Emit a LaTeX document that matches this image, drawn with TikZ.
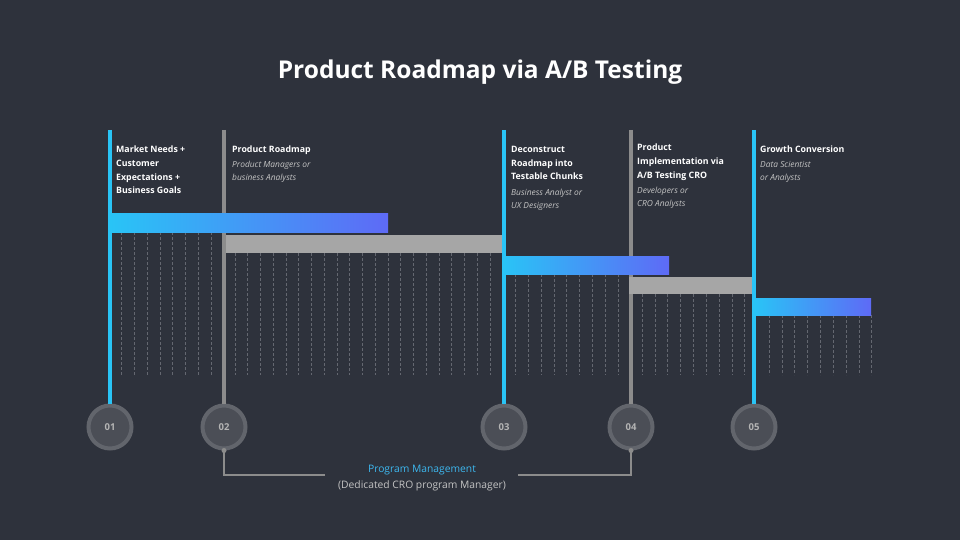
\documentclass[tikz,border=0pt]{standalone}
\usepackage{fontspec}
\setmainfont{Open Sans}
\usetikzlibrary{calc}
\definecolor{bg}{HTML}{2E323C}
\definecolor{cyanl}{HTML}{29C4F6}
\definecolor{violetl}{HTML}{5E6AF6}
\definecolor{grayline}{HTML}{8C8C8C}
\definecolor{graybar}{HTML}{A6A6A6}
\definecolor{ringc}{HTML}{62656C}
\definecolor{circfill}{HTML}{4B4E56}
\definecolor{numc}{HTML}{B4B4B4}
\definecolor{rolec}{HTML}{C4C4C4}
\definecolor{dashc}{HTML}{646770}
\definecolor{pmblue}{HTML}{3DB8F0}
\tikzset{
  vblue/.style={draw=cyanl, line width=4pt},
  vgray/.style={draw=grayline, line width=4pt},
  stepcirc/.style={circle, minimum size=43pt, inner sep=0pt, fill=circfill, draw=ringc, line width=4pt,
     text=numc, font=\bfseries\fontsize{9.5}{11}\selectfont},
  gradbar/.style={left color=cyanl, right color=violetl},
  dashl/.style={draw=dashc, line width=0.7pt, dash pattern=on 3pt off 2pt},
  headtxt/.style={anchor=north west, inner sep=0pt, align=left, text=white,
     font=\bfseries\fontsize{8.8}{13.6}\selectfont},
  roletxt/.style={anchor=north west, inner sep=0pt, align=left, text=rolec,
     font=\itshape\fontsize{8.4}{13}\selectfont},
  conn/.style={draw=grayline, line width=2pt},
}
\begin{document}
\begin{tikzpicture}[x=1pt,y=-1pt]
\fill[bg] (0,0) rectangle (960,540);
\useasboundingbox (0,0) rectangle (960,540);

% title
\node[text=white, font=\bfseries\fontsize{24.5}{28}\selectfont] (title) at (480,72) {Product Roadmap via A/B Testing};

% circles
\node[stepcirc] (c1) at (110,427) {01};
\node[stepcirc] (c2) at (224,427) {02};
\node[stepcirc] (c3) at (504,427) {03};
\node[stepcirc] (c4) at (631,427) {04};
\node[stepcirc] (c5) at (754,427) {05};

% top coordinates
\coordinate (t1) at (110,130);
\coordinate (t2) at (224,130);
\coordinate (t3) at (504,130);
\coordinate (t4) at (631,130);
\coordinate (t5) at (754,130);

% dashed grid lines
\foreach \i in {0,...,7} \draw[dashl] ({121.7+12.75*\i},232) -- ({121.7+12.75*\i},375);
\foreach \i in {0,...,20} \draw[dashl] ({235+12.75*\i},253) -- ({235+12.75*\i},375);
\foreach \i in {0,...,8} \draw[dashl] ({515.5+12.8*\i},274) -- ({515.5+12.8*\i},375);
\foreach \i in {0,...,8} \draw[dashl] ({642+12.85*\i},294) -- ({642+12.85*\i},375);
\foreach \i in {0,...,8} \draw[dashl] ({769+12.85*\i},315) -- ({769+12.85*\i},375);

% vertical lines
\draw[vblue] (t1) -- (c1.north);
\draw[vgray] (t2) -- (c2.north);
\draw[vblue] (t3) -- (c3.north);
\draw[vgray] (t4) -- (c4.north);
\draw[vblue] (t5) -- (c5.north);

% bars (drawn over the lines)
\shade[gradbar] (110,213) rectangle (388,232);
\fill[graybar] (226,235) rectangle (502,253);
\shade[gradbar] (502,256) rectangle (669,274);
\fill[graybar] (629,277) rectangle (752,294);
\shade[gradbar] (754,298) rectangle (871,315);
\draw[vblue] (110,213) -- (110,232);
\draw[vblue] (504,256) -- (504,274);
\draw[vblue] (754,298) -- (754,315);

% texts
\node[headtxt] (h1) at (116,146) {Market Needs +\\Customer\\Expectations +\\Business Goals};
\node[headtxt] (h2) at (232,146) {Product Roadmap};
\node[roletxt] (r2) at (232,161) {Product Managers or\\business Analysts};
\node[headtxt] (h3) at (511,146) {Deconstruct\\Roadmap into\\Testable Chunks};
\node[roletxt] (r3) at (511,189) {Business Analyst or\\UX Designers};
\node[headtxt] (h4) at (637,144) {Product\\Implementation via\\A/B Testing CRO};
\node[roletxt] (r4) at (637,187) {Developers or\\CRO Analysts};
\node[headtxt] (h5) at (760,146) {Growth Conversion};
\node[roletxt] (r5) at (760,161) {Data Scientist\\or Analysts};

% program management connector
\node[text=pmblue, font=\fontsize{10.3}{12}\selectfont] (pm) at (422,470) {Program Management};
\node[text=rolec, font=\fontsize{10.3}{12}\selectfont] (pmd) at (422,486) {(Dedicated CRO program Manager)};
\coordinate (k2) at (224,475);
\coordinate (k4) at (631,475);
\coordinate (e2) at (325,475);
\coordinate (e4) at (518,475);
\draw[conn] (c2.south) -- (k2) -- (e2);
\draw[conn] (c4.south) -- (k4) -- (e4);
\fill[grayline] (c2.south) circle (2.5);
\fill[grayline] (c4.south) circle (2.5);
\end{tikzpicture}
\end{document}
